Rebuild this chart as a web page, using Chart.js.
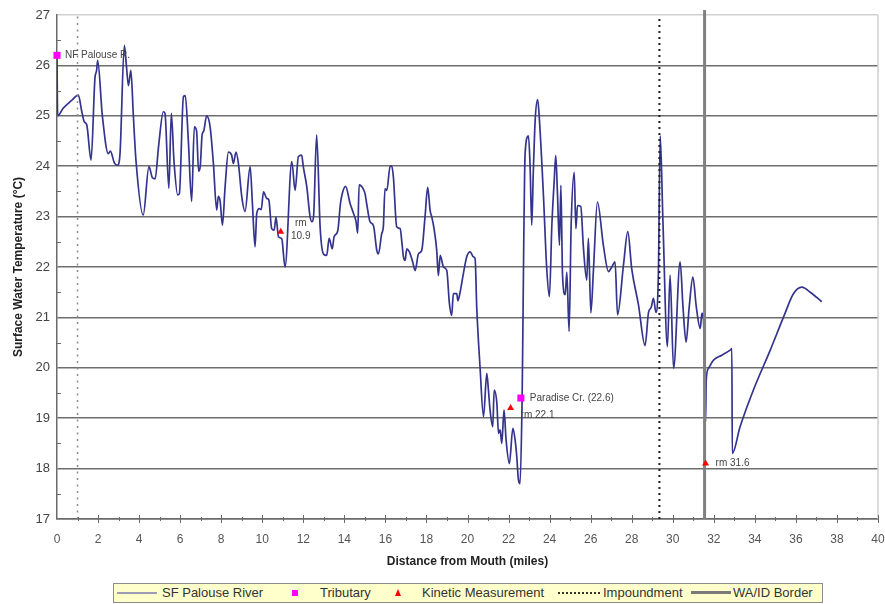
<!DOCTYPE html>
<html>
<head>
<meta charset="utf-8">
<title>SF Palouse River surface water temperature</title>
<script src="https://cdn.jsdelivr.net/npm/chart.js@4.4.1/dist/chart.umd.min.js"></script>
<style>
  html, body { margin: 0; padding: 0; background: #fff; }
  #wrap { position: relative; width: 885px; height: 604px; overflow: hidden;
          font-family: "Liberation Sans", Arial, sans-serif; }
  #chart { position: absolute; left: 0; top: 0; }
  #legend { position: absolute; left: 113px; top: 583px; width: 710px; height: 20px;
            box-sizing: border-box; background: #ffffcc; border: 1px solid #8c8c8c; }
  #legend .txt { position: absolute; top: 0; line-height: 18px; font-size: 13px; color: #333; white-space: nowrap; }
  #legend .sw { position: absolute; }
</style>
</head>
<body>
<div id="wrap">
  <canvas id="chart" width="885" height="604"></canvas>
  <div id="legend">
    <span class="sw" style="left:3px;top:8px;width:40px;height:0;border-top:2px solid #9c9cb4;"></span>
    <span class="txt" style="left:48px;">SF Palouse River</span>
    <span class="sw" style="left:178px;top:6px;width:6px;height:6px;background:#ff00ff;"></span>
    <span class="txt" style="left:206px;">Tributary</span>
    <span class="sw" style="left:281px;top:5px;width:0;height:0;border-left:3.5px solid transparent;border-right:3.5px solid transparent;border-bottom:7px solid #ff0000;"></span>
    <span class="txt" style="left:308px;">Kinetic Measurement</span>
    <span class="sw" style="left:444px;top:8px;width:42px;height:0;border-top:2px dotted #333;"></span>
    <span class="txt" style="left:489px;">Impoundment</span>
    <span class="sw" style="left:577px;top:7px;width:40px;height:0;border-top:3px solid #7a7a7a;"></span>
    <span class="txt" style="left:619px;">WA/ID Border</span>
  </div>
</div>
<script>
// SF Palouse River: distance from mouth (miles) and surface water temperature (°C)
const riverMiles = [
  0.00, 0.03, 0.30, 0.70, 1.04, 1.20, 1.33, 1.45, 1.66, 1.85,
  1.93, 1.98, 2.21, 2.50, 2.60, 2.80, 2.95, 3.07, 3.28, 3.38,
  3.48, 3.60, 3.72, 3.85, 4.20, 4.48, 4.65, 4.78, 4.95, 5.18,
  5.26, 5.45, 5.57, 5.70, 5.88, 5.96, 6.16, 6.25, 6.40, 6.56,
  6.69, 6.80, 6.90, 6.98, 7.07, 7.15, 7.29, 7.46, 7.62, 7.78,
  7.86, 7.95, 8.06, 8.19, 8.35, 8.51, 8.59, 8.72, 8.84, 9.00,
  9.16, 9.41, 9.52, 9.65, 9.73, 9.86, 9.95, 10.06, 10.22, 10.32,
  10.46, 10.58, 10.67, 10.79, 10.95, 11.11, 11.44, 11.60, 11.76, 11.92,
  12.00, 12.17, 12.33, 12.42, 12.50, 12.65, 12.82, 12.98, 13.14, 13.26,
  13.41, 13.50, 13.68, 13.81, 13.90, 14.06, 14.28, 14.44, 14.57, 14.65,
  14.72, 14.92, 15.01, 15.09, 15.25, 15.42, 15.58, 15.66, 15.82, 15.90,
  15.98, 16.07, 16.23, 16.31, 16.39, 16.55, 16.72, 16.80, 16.88, 16.96,
  17.04, 17.17, 17.33, 17.45, 17.61, 17.77, 17.93, 18.06, 18.18, 18.26,
  18.37, 18.50, 18.58, 18.67, 18.83, 18.99, 19.12, 19.23, 19.31, 19.48,
  19.53, 19.64, 19.80, 19.96, 20.13, 20.29, 20.37, 20.45, 20.61, 20.78,
  20.94, 21.02, 21.10, 21.23, 21.30, 21.43, 21.51, 21.59, 21.67, 21.78,
  21.88, 22.04, 22.21, 22.32, 22.40, 22.48, 22.56, 22.65, 22.81, 22.97,
  23.05, 23.13, 23.20, 23.30, 23.42, 23.50, 23.70, 23.86, 23.99, 24.11,
  24.22, 24.30, 24.38, 24.48, 24.55, 24.63, 24.76, 24.84, 24.95, 25.05,
  25.20, 25.28, 25.36, 25.52, 25.65, 25.81, 25.89, 26.01, 26.14, 26.33,
  26.62, 26.87, 27.03, 27.19, 27.31, 27.60, 27.81, 28.00, 28.33, 28.65,
  28.82, 28.95, 29.06, 29.18, 29.30, 29.39, 29.52, 29.74, 29.87, 30.04,
  30.36, 30.50, 30.65, 30.80, 30.98, 31.15, 31.34, 31.42, 31.50, 31.60,
  31.63, 31.74, 31.98, 32.39, 32.80, 32.88, 32.90, 33.28, 33.93, 34.75,
  35.40, 35.88, 36.29, 36.70, 37.26
];
const riverTemps = [
  26.15, 25.00, 25.15, 25.30, 25.41, 25.10, 24.88, 24.82, 24.12, 25.75,
  25.90, 26.10, 25.00, 24.25, 24.30, 24.06, 24.02, 24.25, 26.40, 26.00,
  25.60, 25.90, 25.00, 24.10, 23.03, 23.99, 23.77, 23.75, 24.40, 25.08,
  25.05, 23.56, 25.05, 24.10, 23.43, 23.45, 25.38, 25.40, 24.50, 23.30,
  24.78, 24.70, 23.90, 24.00, 24.62, 24.70, 25.00, 24.78, 24.05, 23.13,
  23.40, 23.30, 22.83, 23.59, 24.28, 24.22, 24.05, 24.28, 24.05, 23.40,
  23.10, 23.99, 23.26, 22.40, 23.06, 23.16, 23.14, 23.49, 23.36, 23.33,
  22.76, 22.73, 22.99, 22.60, 22.56, 22.00, 24.09, 23.52, 24.19, 24.22,
  23.99, 23.59, 23.00, 22.90, 23.00, 24.62, 22.79, 22.26, 22.23, 22.57,
  22.36, 22.60, 22.72, 23.26, 23.46, 23.60, 23.26, 23.07, 22.90, 22.67,
  23.63, 23.55, 23.45, 23.25, 22.90, 22.82, 22.33, 22.26, 22.66, 22.80,
  23.55, 23.52, 24.00, 24.00, 23.78, 22.80, 22.76, 22.50, 22.20, 22.13,
  22.36, 22.30, 22.10, 21.93, 22.26, 22.33, 22.99, 23.58, 23.12, 22.99,
  22.76, 22.33, 21.83, 22.23, 22.00, 21.93, 21.27, 21.04, 21.47, 21.47,
  21.33, 21.50, 21.87, 22.20, 22.30, 22.20, 22.17, 21.20, 20.02, 19.03,
  19.89, 19.56, 19.16, 18.83, 19.56, 19.30, 18.70, 18.77, 18.50, 19.16,
  18.57, 18.10, 18.80, 18.57, 18.24, 17.78, 17.70, 19.10, 24.28, 24.60,
  24.00, 22.83, 23.80, 24.93, 25.32, 24.95, 23.42, 21.97, 21.41, 22.83,
  23.68, 24.21, 23.50, 22.43, 23.62, 21.84, 21.45, 21.90, 20.72, 22.83,
  23.88, 22.76, 23.22, 23.20, 22.37, 21.74, 22.57, 21.09, 21.97, 23.29,
  22.43, 21.91, 22.00, 22.10, 21.05, 22.04, 22.70, 21.97, 21.25, 20.44,
  21.10, 21.20, 21.38, 21.10, 21.87, 24.60, 22.93, 20.42, 21.84, 19.99,
  22.10, 21.20, 20.51, 21.20, 21.80, 21.20, 20.78, 21.08, 20.94, 18.93,
  19.75, 19.99, 20.15, 20.25, 20.35, 20.38, 18.30, 18.83, 19.56, 20.35,
  21.01, 21.47, 21.60, 21.50, 21.31
];

// Tributary inflows
const tributaryMiles = [0.0, 22.6];
const tributaryTemps = [26.2, 19.4];
const tributaryNames = [['NF Palouse R.'], ['Paradise Cr. (22.6)']];

// Kinetic measurement sites (river mile)
const kineticMiles = [10.9, 22.1, 31.6];
const kineticTemps = [22.7, 19.2, 18.1];
const kineticNames = [['rm', '10.9'], ['rm 22.1'], ['rm 31.6']];

// Impoundments and the state line
const impoundmentMiles = [1.0, 29.35];
const borderMile = 31.55;

// Axis ranges
const xMin = 0, xMax = 40, xStep = 1, xLabelEvery = 2;
const yMin = 17, yMax = 27, yStep = 0.5;

const pts = (xs, ys) => xs.map((v, i) => ({ x: v, y: ys[i] }));
const vline = (m, top) => [{ x: m, y: yMin }, { x: m, y: top }];

// label placement next to the markers: [dx, dy, align]
const tributaryNoteStyle = [[8, 0, 'left'], [9, 0, 'left']];
const kineticNoteStyle = [[20, -8, 'center'], [10, 7, 'left'], [10, 0, 'left']];

const markerNotes = {
  id: 'markerNotes',
  afterDatasetsDraw(chart) {
    const { ctx, scales: { x, y } } = chart;
    ctx.save();
    ctx.font = '10px "Liberation Sans", Arial, sans-serif';
    ctx.fillStyle = '#444';
    ctx.textBaseline = 'middle';
    const put = (mile, temp, lines, st) => {
      const px = x.getPixelForValue(mile) + st[0];
      const py = y.getPixelForValue(temp) + st[1];
      ctx.textAlign = st[2];
      lines.forEach((t, i) => ctx.fillText(t, px, py + i * 13));
    };
    tributaryMiles.forEach((m, i) => put(m, tributaryTemps[i], tributaryNames[i], tributaryNoteStyle[i]));
    kineticMiles.forEach((m, i) => put(m, kineticTemps[i], kineticNames[i], kineticNoteStyle[i]));
    ctx.restore();
  }
};

const frameTicks = {
  id: 'frameTicks',
  afterDraw(chart) {
    const { ctx, chartArea: a, scales: { x, y } } = chart;
    ctx.save();
    ctx.strokeStyle = '#d0d0d0';
    ctx.lineWidth = 1.5;
    ctx.beginPath();
    ctx.moveTo(a.right, a.top);
    ctx.lineTo(a.right, a.bottom);
    ctx.stroke();
    ctx.strokeStyle = '#6a6a6a';
    ctx.lineWidth = 1;
    ctx.beginPath();
    y.ticks.forEach(t => {
      if (!Number.isInteger(t.value)) {
        const py = Math.round(y.getPixelForValue(t.value)) + 0.5;
        ctx.moveTo(a.left, py);
        ctx.lineTo(a.left + 4, py);
      }
    });
    x.ticks.forEach(t => {
      if (t.value === xMin) return;
      const px = Math.round(x.getPixelForValue(t.value)) + 0.5;
      const h = t.value % xLabelEvery === 0 ? 4 : 2;
      ctx.moveTo(px, a.bottom - h);
      ctx.lineTo(px, a.bottom + h);
    });
    ctx.stroke();
    ctx.restore();
  }
};

Chart.defaults.font.family = '"Liberation Sans", Arial, sans-serif';

new Chart(document.getElementById('chart'), {
  type: 'line',
  data: {
    datasets: [
      {
        label: 'Tributary',
        data: pts(tributaryMiles, tributaryTemps),
        showLine: false, pointStyle: 'rect', pointRadius: 5,
        backgroundColor: '#ff00ff', borderColor: '#ff00ff', borderWidth: 0,
        order: 0, clip: false
      },
      {
        label: 'Kinetic Measurement',
        data: pts(kineticMiles, kineticTemps),
        showLine: false, pointStyle: 'triangle', pointRadius: 4,
        backgroundColor: '#ff0000', borderColor: '#ff0000', borderWidth: 0,
        order: 0, clip: false
      },
      {
        label: 'WA/ID Border',
        data: vline(borderMile, yMax + 0.1),
        borderColor: '#808080', borderWidth: 3, pointRadius: 0,
        order: 1, clip: false
      },
      {
        label: 'Impoundment',
        data: vline(impoundmentMiles[0], yMax),
        borderColor: '#8c8c8c', borderWidth: 1.5, borderDash: [2, 4.5], pointRadius: 0,
        order: 2
      },
      {
        label: 'Impoundment ',
        data: vline(impoundmentMiles[1], yMax),
        borderColor: '#1e1e1e', borderWidth: 2, borderDash: [2, 4], pointRadius: 0,
        order: 2
      },
      {
        label: 'SF Palouse River',
        data: pts(riverMiles, riverTemps),
        borderColor: '#34348e', borderWidth: 1.7, pointRadius: 0,
        cubicInterpolationMode: 'monotone',
        order: 4
      }
    ]
  },
  options: {
    responsive: false,
    animation: false,
    events: [],
    layout: { padding: { left: 0, right: 7, top: 15, bottom: 0 } },
    plugins: { legend: { display: false }, tooltip: { enabled: false } },
    scales: {
      x: {
        type: 'linear', min: xMin, max: xMax,
        afterFit: s => { s.height = 85; s.paddingLeft = 0; s.paddingRight = 0; },
        grid: { display: false, drawTicks: false },
        border: { display: true, color: '#6a6a6a', width: 1.5 },
        ticks: {
          stepSize: xStep, autoSkip: false, maxRotation: 0, padding: 13,
          color: '#555', font: { size: 12 },
          callback: v => (v % xLabelEvery === 0 ? String(v) : '')
        },
        title: {
          display: true, text: 'Distance from Mouth (miles)',
          color: '#222', font: { size: 12, weight: 'bold' },
          padding: { top: 0, bottom: 35 }
        }
      },
      y: {
        type: 'linear', min: yMin, max: yMax,
        afterFit: s => { s.width = 57; s.paddingTop = 0; s.paddingBottom = 0; },
        grid: {
          drawTicks: false, lineWidth: 1.5,
          color: c => {
            const v = c.tick.value;
            if (!Number.isInteger(v)) return 'rgba(0,0,0,0)';
            return v === yMax ? '#d0d0d0' : '#6e6e6e';
          }
        },
        border: { display: true, color: '#6a6a6a', width: 1.5 },
        ticks: {
          stepSize: yStep, autoSkip: false, padding: 7,
          color: '#444', font: { size: 13 },
          callback: v => (Number.isInteger(v) ? String(v) : '')
        },
        title: {
          display: true, text: 'Surface Water Temperature (°C)',
          color: '#222', font: { size: 12, weight: 'bold' },
          padding: { top: 11, bottom: 0 }
        }
      }
    }
  },
  plugins: [markerNotes, frameTicks]
});
</script>
</body>
</html>
